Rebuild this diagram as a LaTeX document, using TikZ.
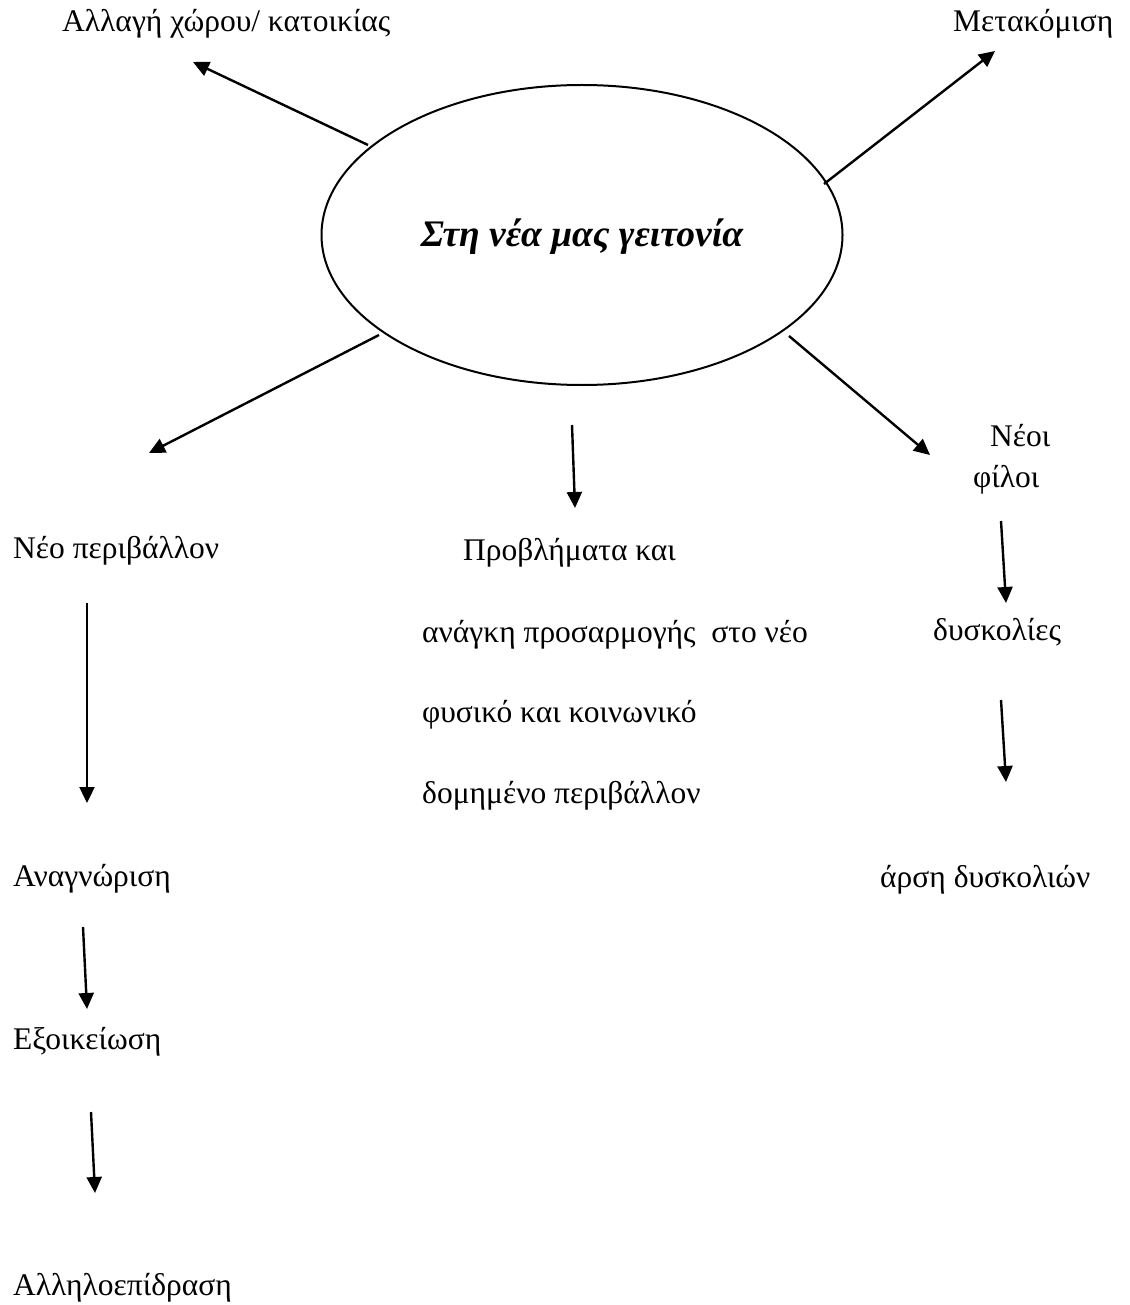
\documentclass[tikz,border=0pt]{standalone}
\usepackage{fontspec}
\setmainfont{Liberation Serif}
\usetikzlibrary{arrows.meta,shapes.geometric}
\begin{document}
\begin{tikzpicture}[x=1pt,y=-1pt,
  lbl/.style={anchor=base west, inner sep=0pt, font=\fontsize{31.5}{36}\selectfont},
  arr/.style={-{Triangle[length=16pt,width=15pt]}, line width=2.4pt},
  hub/.style={draw, ellipse, line width=2pt, minimum width=521pt, minimum height=300pt,
    inner sep=0pt, font=\fontsize{37.5}{42}\selectfont\bfseries\itshape,
    text height=31pt, text depth=7pt}
]
\useasboundingbox[fill=white] (0,0) rectangle (1129,1305);

\node[hub] (ell) at (582,235) {Στη νέα μας γειτονία};

\node[lbl] (allagi) at (62,32) {Αλλαγή χώρου/ κατοικίας};
\node[lbl] (metak) at (953,32) {Μετακόμιση};
\node[lbl] (neoper) at (13,558) {Νέο περιβάλλον};
\node[lbl] (provl) at (463,560) {Προβλήματα και};
\node[lbl] (anagki) at (422,642) {ανάγκη προσαρμογής\ \ στο νέο};
\node[lbl] (fysiko) at (422,722) {φυσικό και κοινωνικό};
\node[lbl] (domim) at (422,803) {δομημένο περιβάλλον};
\node[lbl] (neoi) at (990,446) {Νέοι};
\node[lbl] (fili) at (973,487) {φίλοι};
\node[lbl] (dysk) at (933,640) {δυσκολίες};
\node[lbl] (arsi) at (880,887) {άρση δυσκολιών};
\node[lbl] (anagn) at (13,886) {Αναγνώριση};
\node[lbl] (exoik) at (13,1049) {Εξοικείωση};
\node[lbl] (allil) at (13,1295) {Αλληλοεπίδραση};

\coordinate (s1) at (368,145); \coordinate (t1) at (193,62);
\coordinate (s2) at (824,184); \coordinate (t2) at (995,51);
\coordinate (s3) at (379,335); \coordinate (t3) at (149,453);
\coordinate (s4) at (789,336); \coordinate (t4) at (930,455);
\coordinate (s5) at (572,425); \coordinate (t5) at (575,508);
\coordinate (s6) at (1001,521); \coordinate (t6) at (1006,603);
\coordinate (s7) at (1001,700); \coordinate (t7) at (1006,782);
\coordinate (s8) at (87,603); \coordinate (t8) at (87,803);
\coordinate (s9) at (83,927); \coordinate (t9) at (87,1009);
\coordinate (s10) at (91,1112); \coordinate (t10) at (95,1193);

\draw[arr] (s1) -- (t1);
\draw[arr] (s2) -- (t2);
\draw[arr] (s3) -- (t3);
\draw[arr] (s4) -- (t4);
\draw[arr] (s5) -- (t5);
\draw[arr] (s6) -- (t6);
\draw[arr] (s7) -- (t7);
\draw[arr] (s8) -- (t8);
\draw[arr] (s9) -- (t9);
\draw[arr] (s10) -- (t10);
\end{tikzpicture}
\end{document}
